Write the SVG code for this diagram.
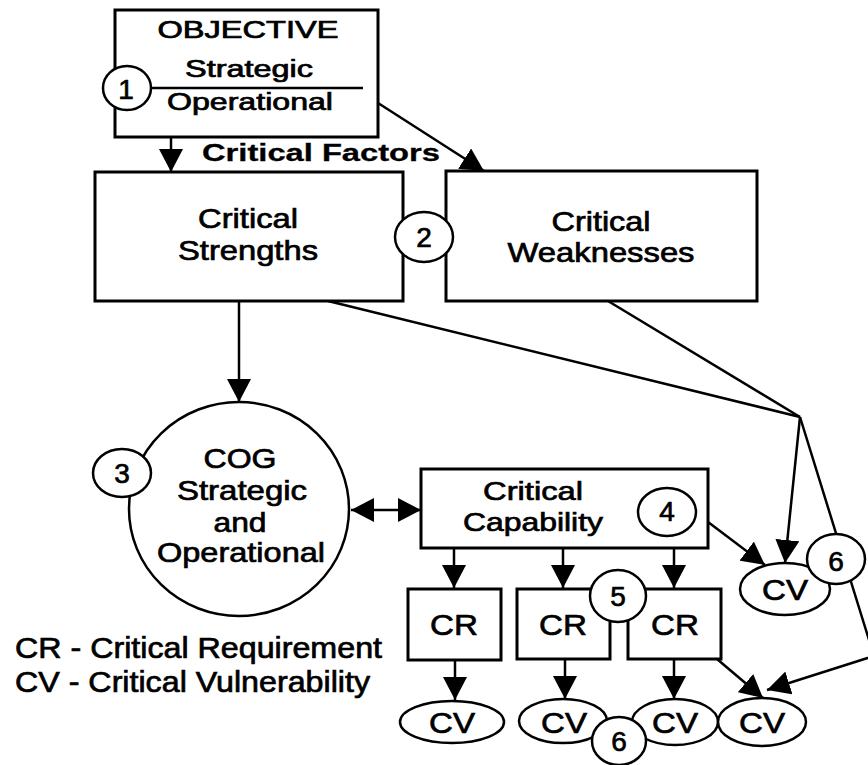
<svg xmlns="http://www.w3.org/2000/svg" width="868" height="765" viewBox="0 0 868 765">
<style>
  .box { fill: #fff; stroke: #000; stroke-width: 3; }
  .oval { fill: #fff; stroke: #000; stroke-width: 2.5; }
  .num { fill: #fff; stroke: #000; stroke-width: 2.5; }
  .ln { fill: none; stroke: #000; stroke-width: 2.5; }
  .arr { marker-end: url(#ah); }
  text { font-family: "Liberation Sans", Arial, sans-serif; fill: #000; stroke: #000; stroke-width: 0.7; text-anchor: middle; }
  .t28 { font-size: 28px; }
  .t26 { font-size: 26px; }
  .t23 { font-size: 23px; }
  .t30 { font-size: 30px; }
  .lg { font-size: 29px; text-anchor: start; }
  .bold { font-weight: bold; stroke-width: 0.3; }
</style>
<defs>
  <marker id="ah" viewBox="0 0 23 24" refX="23" refY="12" markerWidth="23" markerHeight="24" markerUnits="userSpaceOnUse" orient="auto-start-reverse">
    <path d="M0,0 L23,12 L0,24 z" fill="#000"/>
  </marker>
</defs>
<rect width="868" height="765" fill="#fff"/>

<g id="connectors">
  <line class="ln arr" x1="171" y1="137" x2="171" y2="172"/>
  <line class="ln arr" x1="378" y1="103" x2="484" y2="171"/>
  <line class="ln arr" x1="239" y1="301" x2="239" y2="402"/>
  <line class="ln" x1="328" y1="301" x2="800" y2="417"/>
  <line class="ln" x1="608" y1="301" x2="800" y2="417"/>
  <line class="ln arr" x1="800" y1="417" x2="785" y2="563"/>
  <polyline class="ln arr" points="800,417 874,656 767,690"/>
  <line class="ln arr" x1="708" y1="522" x2="765" y2="565"/>
  <line class="ln arr" x1="351" y1="510" x2="421" y2="510" marker-start="url(#ah)"/>
  <line class="ln arr" x1="454" y1="548" x2="454" y2="588"/>
  <line class="ln arr" x1="563" y1="548" x2="563" y2="588"/>
  <line class="ln arr" x1="674" y1="548" x2="674" y2="588"/>
  <line class="ln arr" x1="455" y1="660" x2="455" y2="700"/>
  <line class="ln arr" x1="565" y1="659" x2="565" y2="699"/>
  <line class="ln arr" x1="674" y1="659" x2="674" y2="699"/>
  <line class="ln arr" x1="717" y1="659" x2="763" y2="698"/>
</g>

<g id="objective">
  <rect class="box" x="115" y="10" width="263" height="127"/>
  <text class="t23" x="248" y="38" textLength="181" lengthAdjust="spacingAndGlyphs">OBJECTIVE</text>
  <text class="t23" x="249" y="77" textLength="128" lengthAdjust="spacingAndGlyphs">Strategic</text>
  <line x1="150" y1="88" x2="363" y2="88" stroke="#000" stroke-width="2.5"/>
  <text class="t23" x="250" y="110" textLength="166" lengthAdjust="spacingAndGlyphs">Operational</text>
</g>
<g id="marker1">
  <ellipse class="num" cx="127" cy="88" rx="24" ry="22"/>
  <text class="t28" x="126" y="99">1</text>
</g>

<g id="critical-factors-label">
  <text class="t23 bold" x="321" y="161" textLength="238" lengthAdjust="spacingAndGlyphs">Critical Factors</text>
</g>

<g id="strengths">
  <rect class="box" x="95" y="172" width="308" height="129"/>
  <text class="t28" x="248" y="228" textLength="100" lengthAdjust="spacingAndGlyphs">Critical</text>
  <text class="t28" x="248" y="260" textLength="140" lengthAdjust="spacingAndGlyphs">Strengths</text>
</g>

<g id="weaknesses">
  <rect class="box" x="446" y="171" width="311" height="130"/>
  <text class="t28" x="601" y="231" textLength="99" lengthAdjust="spacingAndGlyphs">Critical</text>
  <text class="t28" x="601" y="262" textLength="187" lengthAdjust="spacingAndGlyphs">Weaknesses</text>
</g>
<g id="marker2">
  <ellipse class="num" cx="424" cy="237" rx="29" ry="25"/>
  <text class="t28" x="424" y="247">2</text>
</g>

<g id="cog">
  <ellipse class="oval" cx="239" cy="509" rx="110" ry="107"/>
  <text class="t28" x="240" y="468" textLength="73" lengthAdjust="spacingAndGlyphs">COG</text>
  <text class="t28" x="242" y="500" textLength="130" lengthAdjust="spacingAndGlyphs">Strategic</text>
  <text class="t28" x="240" y="532" textLength="53" lengthAdjust="spacingAndGlyphs">and</text>
  <text class="t28" x="241" y="562" textLength="168" lengthAdjust="spacingAndGlyphs">Operational</text>
</g>
<g id="marker3">
  <ellipse class="num" cx="122" cy="473" rx="29" ry="24"/>
  <text class="t28" x="122" y="483">3</text>
</g>

<g id="capability">
  <rect class="box" x="421" y="469" width="287" height="79"/>
  <text class="t26" x="533" y="500" textLength="100" lengthAdjust="spacingAndGlyphs">Critical</text>
  <text class="t26" x="533" y="531" textLength="140" lengthAdjust="spacingAndGlyphs">Capability</text>
</g>
<g id="marker4">
  <ellipse class="num" cx="667" cy="512" rx="29" ry="24"/>
  <text class="t28" x="667" y="521">4</text>
</g>

<g id="cr1">
  <rect class="box" x="408" y="589" width="93" height="71"/>
  <text class="t30" x="454" y="635" textLength="48" lengthAdjust="spacingAndGlyphs">CR</text>
</g>
<g id="cr2">
  <rect class="box" x="517" y="589" width="93" height="70"/>
  <text class="t30" x="563" y="635" textLength="48" lengthAdjust="spacingAndGlyphs">CR</text>
</g>
<g id="cr3">
  <rect class="box" x="628" y="589" width="93" height="70"/>
  <text class="t30" x="675" y="635" textLength="48" lengthAdjust="spacingAndGlyphs">CR</text>
</g>
<g id="marker5">
  <ellipse class="num" cx="618" cy="596" rx="28" ry="26"/>
  <text class="t28" x="618" y="606">5</text>
</g>

<g id="cv-top">
  <ellipse class="oval" cx="785" cy="589" rx="45" ry="26"/>
  <text class="t30" x="785" y="600" textLength="46" lengthAdjust="spacingAndGlyphs">CV</text>
</g>
<g id="marker6-top">
  <ellipse class="num" cx="836" cy="559" rx="29" ry="25"/>
  <text class="t28" x="836" y="571">6</text>
</g>

<g id="cv1">
  <ellipse class="oval" cx="452" cy="722" rx="52" ry="21"/>
  <text class="t30" x="452" y="733" textLength="46" lengthAdjust="spacingAndGlyphs">CV</text>
</g>
<g id="cv2">
  <ellipse class="oval" cx="563" cy="721" rx="44" ry="22"/>
  <text class="t30" x="564" y="733" textLength="46" lengthAdjust="spacingAndGlyphs">CV</text>
</g>
<g id="cv3">
  <ellipse class="oval" cx="675" cy="722" rx="43" ry="23"/>
  <text class="t30" x="675" y="733" textLength="46" lengthAdjust="spacingAndGlyphs">CV</text>
</g>
<g id="cv4">
  <ellipse class="oval" cx="762" cy="722" rx="44" ry="24"/>
  <text class="t30" x="762" y="733" textLength="46" lengthAdjust="spacingAndGlyphs">CV</text>
</g>
<g id="marker6-bottom">
  <ellipse class="num" cx="619" cy="741" rx="27" ry="24"/>
  <text class="t28" x="619" y="751">6</text>
</g>

<g id="legend">
  <text class="lg" x="15" y="658" textLength="367" lengthAdjust="spacingAndGlyphs">CR - Critical Requirement</text>
  <text class="lg" x="15" y="692" textLength="355" lengthAdjust="spacingAndGlyphs">CV - Critical Vulnerability</text>
</g>
</svg>
